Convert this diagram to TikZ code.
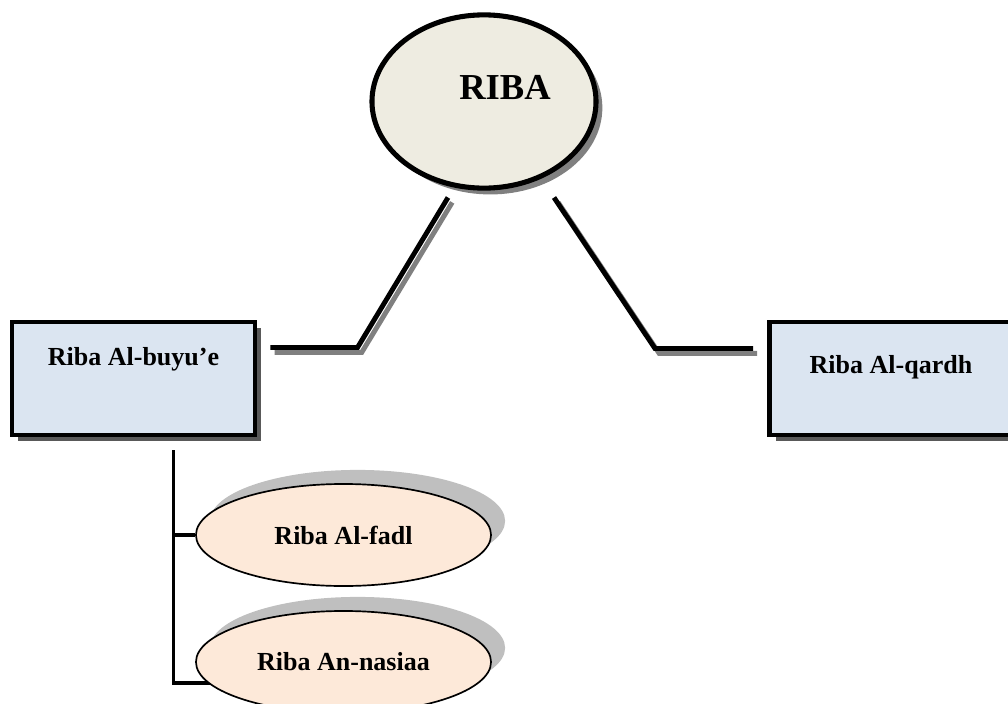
\documentclass[tikz,border=0pt]{standalone}
\usepackage{fontspec}
\setmainfont{Liberation Serif}
\usetikzlibrary{shapes.geometric, shadows, backgrounds}

\definecolor{ovalgray}{HTML}{EEECE1}
\definecolor{boxblue}{HTML}{DBE5F1}
\definecolor{ovalpeach}{HTML}{FDE9D9}

\begin{document}
\begin{tikzpicture}[x=0.025cm, y=-0.025cm,
  every node/.style={font=\bfseries\fontsize{18.5}{22}\selectfont},
  mainoval/.style={ellipse, draw, line width=3.6pt, fill=ovalgray, inner sep=0pt,
    minimum width=5.6cm, minimum height=4.33cm,
    drop shadow={shadow xshift=4.5pt, shadow yshift=-4.5pt, fill=gray, opacity=1}},
  typebox/.style={rectangle, draw, line width=3.5pt, fill=boxblue, inner sep=0pt,
    minimum width=6.075cm, minimum height=2.825cm,
    drop shadow={shadow xshift=4.5pt, shadow yshift=-4.5pt, fill=black!65, opacity=1}},
  suboval/.style={ellipse, draw, line width=1.2pt, fill=ovalpeach, inner sep=0pt,
    minimum width=7.375cm, minimum height=2.55cm,
    drop shadow={shadow xshift=10pt, shadow yshift=10pt, fill=gray!50, opacity=1}},
  conn/.style={line width=3.5pt,
    preaction={draw=gray, line width=3.5pt, transform canvas={xshift=3pt, yshift=-3.5pt}}},
  branch/.style={line width=2.8pt}
]
\useasboundingbox (0,0) rectangle (1008,704);

\node[mainoval, label={[font=\bfseries\fontsize{26}{30}\selectfont, xshift=0.525cm, yshift=0.34cm]center:RIBA}] (riba) at (484,101.5) {};
\node[typebox, label={[yshift=0.48cm]center:Riba Al-buyu’e}] (buyu) at (133.5,378.5) {};
\node[typebox, label={[yshift=0.27cm]center:Riba Al-qardh}] (qardh) at (891,378.5) {};
\node[suboval] (fadl) at (343.5,535) {Riba Al-fadl};
\node[suboval] (nasiaa) at (343.5,662) {Riba An-nasiaa};

\coordinate (lt) at ([shift={(-36,96)}]riba.center);
\coordinate (lb) at ([shift={(13,-31)}]buyu.east);
\coordinate (rt) at ([shift={(70,96)}]riba.center);
\coordinate (rb) at ([shift={(-14,-30)}]qardh.west);
\coordinate (bt) at ([shift={(40,13)}]buyu.south);

\draw[conn] (lt) -- ([xshift=2.175cm]lb) -- (lb);
\draw[conn] (rt) -- ([xshift=-2.45cm]rb) -- (rb);

\begin{pgfonlayer}{background}
\draw[branch] (bt) |- ([shift={(0,21)}]nasiaa.center);
\draw[branch] (bt |- fadl.west) -- (fadl.west);
\end{pgfonlayer}
\end{tikzpicture}
\end{document}
